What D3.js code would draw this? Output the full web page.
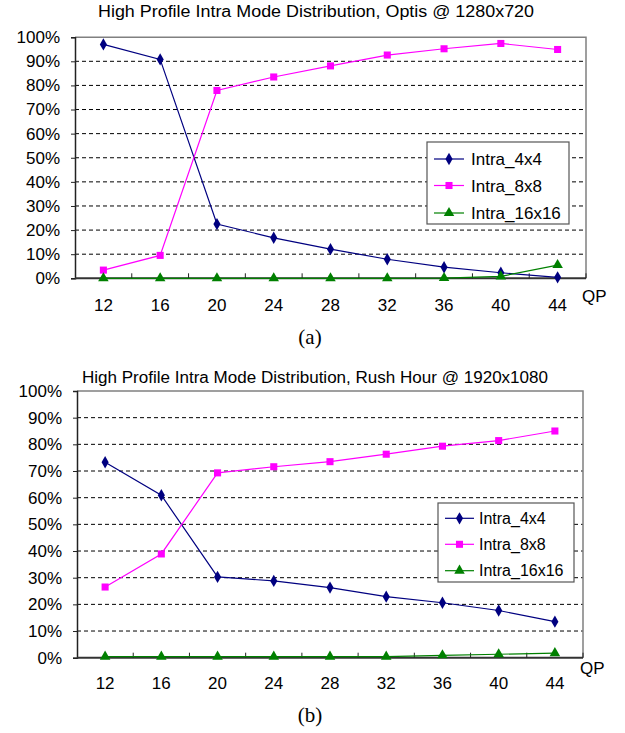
<!DOCTYPE html>
<html>
<head>
<meta charset="utf-8">
<script src="https://cdn.jsdelivr.net/npm/d3@7"></script>
<style>
  html, body { margin: 0; padding: 0; background: #fff; }
  svg { display: block; }
</style>
</head>
<body>
<svg id="chart" width="625" height="733"></svg>
<script>
// ---- data ----
const qp = [12, 16, 20, 24, 28, 32, 36, 40, 44];
const seriesNames = ["Intra_4x4", "Intra_8x8", "Intra_16x16"];
const yTicks = [0, 10, 20, 30, 40, 50, 60, 70, 80, 90, 100];

const optisTitle = "High Profile Intra Mode Distribution, Optis @ 1280x720";
const optis4x4   = [97.0, 90.8, 22.5, 16.8, 12.1, 7.9, 4.6, 2.3, 0.4];
const optis8x8   = [3.4, 9.5, 77.9, 83.5, 88.1, 92.6, 95.2, 97.4, 94.9];
const optis16x16 = [0.0, 0.0, 0.0, 0.0, 0.0, 0.0, 0.1, 0.8, 5.5];

const rushTitle = "High Profile Intra Mode Distribution, Rush Hour @ 1920x1080";
const rush4x4   = [73.3, 60.9, 30.3, 28.8, 26.3, 22.9, 20.6, 17.7, 13.5];
const rush8x8   = [26.5, 38.9, 69.3, 71.6, 73.5, 76.3, 79.3, 81.4, 85.0];
const rush16x16 = [0.4, 0.4, 0.4, 0.4, 0.4, 0.4, 0.9, 1.3, 1.7];

// ---- styles ----
const colors = ["#000080", "#FF00FF", "#008000"];
const markers = [d3.symbolDiamond, d3.symbolSquare, d3.symbolTriangle];
const markerSizes = [44, 50, 48];

const svg = d3.select("#chart");

function drawChart(cfg) {
  const g = svg.append("g");
  const x = d3.scaleBand().domain(qp).range([cfg.left, cfg.right]);
  const y = d3.scaleLinear().domain([0, 100]).range([cfg.bottom, cfg.top]);
  const cx = d => x(d) + x.bandwidth() / 2;

  // title
  g.append("text")
    .attr("x", cfg.titleX).attr("y", cfg.titleY)
    .attr("text-anchor", "middle")
    .attr("font-family", "Liberation Sans, Arial, sans-serif")
    .attr("font-size", 16)
    .attr("textLength", cfg.titleW).attr("lengthAdjust", "spacingAndGlyphs")
    .text(cfg.title);

  // gridlines
  g.append("g").selectAll("line").data(yTicks.filter(t => t > 0 && t < 100)).join("line")
    .attr("x1", cfg.left).attr("x2", cfg.right)
    .attr("y1", d => y(d)).attr("y2", d => y(d))
    .attr("stroke", "#000").attr("stroke-width", 1)
    .attr("stroke-dasharray", "4,3");

  // plot border (top & right)
  g.append("path")
    .attr("d", `M${cfg.left},${y(100)}H${cfg.right}V${y(0)}`)
    .attr("fill", "none").attr("stroke", "#808080").attr("stroke-width", 1.5);

  // y axis
  const yAxis = d3.axisLeft(y).tickValues(yTicks).tickSize(4).tickPadding(11)
    .tickFormat(d => d + "%");
  const ya = g.append("g").attr("transform", `translate(${cfg.left},0)`).call(yAxis);
  ya.select(".domain").attr("stroke", "#222").attr("stroke-width", 1.5);
  ya.selectAll(".tick line").attr("stroke", "#222");
  ya.selectAll("text")
    .attr("font-family", "Liberation Sans, Arial, sans-serif")
    .attr("font-size", cfg.yFont).attr("fill", "#000");

  // x axis line + ticks at band boundaries (pointing up)
  g.append("line")
    .attr("x1", cfg.left).attr("x2", cfg.right)
    .attr("y1", y(0)).attr("y2", y(0))
    .attr("stroke", "#333").attr("stroke-width", 2);
  const bounds = qp.slice(1).map(d => x(d)).concat([cfg.right]);
  g.append("g").selectAll("line").data(bounds).join("line")
    .attr("x1", d => d).attr("x2", d => d)
    .attr("y1", y(0)).attr("y2", y(0) - 5)
    .attr("stroke", "#222").attr("stroke-width", 1);

  // x labels
  g.append("g").selectAll("text").data(qp).join("text")
    .attr("x", d => cx(d)).attr("y", cfg.xLabelY)
    .attr("text-anchor", "middle")
    .attr("font-family", "Liberation Sans, Arial, sans-serif")
    .attr("font-size", 17)
    .text(d => d);

  g.append("text")
    .attr("x", cfg.qpX).attr("y", cfg.qpY)
    .attr("font-family", "Liberation Sans, Arial, sans-serif")
    .attr("font-size", 17)
    .text("QP");

  // series
  cfg.series.forEach((vals, i) => {
    const line = d3.line().x((d, j) => cx(qp[j])).y(d => y(d));
    g.append("path").datum(vals)
      .attr("d", line).attr("fill", "none")
      .attr("stroke", colors[i]).attr("stroke-width", 1.2);
    g.append("g").selectAll("path").data(vals).join("path")
      .attr("transform", (d, j) => `translate(${cx(qp[j])},${y(d)})`)
      .attr("d", d3.symbol().type(markers[i]).size(markerSizes[i]))
      .attr("fill", colors[i]);
  });

  // legend
  const L = cfg.legend;
  g.append("rect")
    .attr("x", L.x).attr("y", L.y).attr("width", L.w).attr("height", L.h)
    .attr("fill", "#fff").attr("stroke", "#555").attr("stroke-width", 1.2);
  seriesNames.forEach((name, i) => {
    const ey = L.rows[i];
    g.append("line")
      .attr("x1", L.lx1).attr("x2", L.lx2).attr("y1", ey).attr("y2", ey)
      .attr("stroke", colors[i]).attr("stroke-width", 1.2);
    g.append("path")
      .attr("transform", `translate(${(L.lx1 + L.lx2) / 2},${ey})`)
      .attr("d", d3.symbol().type(markers[i]).size(markerSizes[i]))
      .attr("fill", colors[i]);
    g.append("text")
      .attr("x", L.tx).attr("y", ey).attr("dy", "0.36em")
      .attr("font-family", "Liberation Sans, Arial, sans-serif")
      .attr("font-size", L.font)
      .text(name);
  });

  // caption
  g.append("text")
    .attr("x", cfg.capX).attr("y", cfg.capY)
    .attr("text-anchor", "middle")
    .attr("font-family", "Liberation Serif, Times New Roman, serif")
    .attr("font-size", 21)
    .text(cfg.caption);
}

drawChart({
  title: optisTitle, titleX: 316, titleY: 17, titleW: 436,
  left: 75, right: 586, top: 37.2, bottom: 278.3,
  yFont: 17, xLabelY: 311, qpX: 582, qpY: 302,
  series: [optis4x4, optis8x8, optis16x16],
  legend: { x: 427, y: 142, w: 142, h: 82, rows: [159, 185.5, 213], lx1: 434, lx2: 464, tx: 471, font: 17 },
  caption: "(a)", capX: 310, capY: 344
});

drawChart({
  title: rushTitle, titleX: 315, titleY: 383, titleW: 466,
  left: 77, right: 583, top: 391, bottom: 657.7,
  yFont: 17, xLabelY: 689, qpX: 580, qpY: 674,
  series: [rush4x4, rush8x8, rush16x16],
  legend: { x: 438, y: 503, w: 136, h: 79, rows: [518.3, 544.3, 570.7], lx1: 445, lx2: 474, tx: 479, font: 16 },
  caption: "(b)", capX: 310, capY: 722
});
</script>
</body>
</html>
